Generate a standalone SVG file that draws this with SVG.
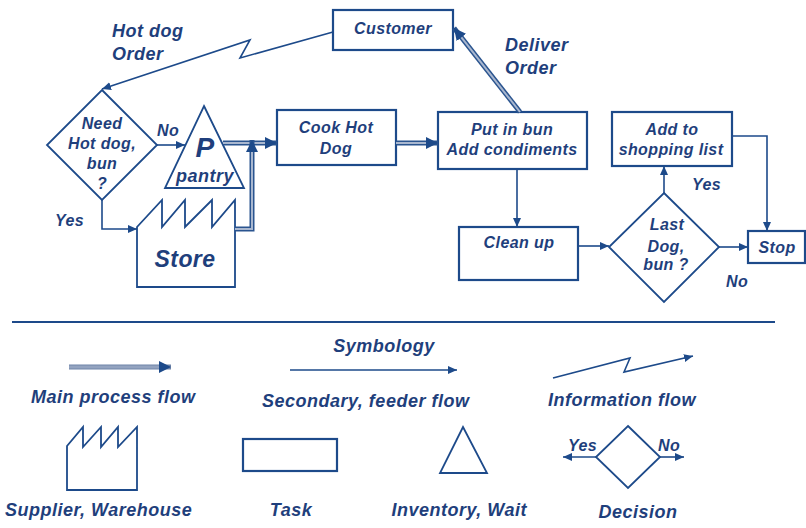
<svg xmlns="http://www.w3.org/2000/svg" width="806" height="528" viewBox="0 0 806 528">
<style>
text{font-family:"Liberation Sans",Arial,sans-serif;font-weight:bold;font-style:italic;fill:#1f3f7c;letter-spacing:0.4px}
.n{font-size:16px}
.l{font-size:18px;letter-spacing:0.5px}
.c{text-anchor:middle}
.box{fill:#fff;stroke:#1d4a8a;stroke-width:2.2}
.sh{fill:none;stroke:#1d4a8a;stroke-width:1.8}
.sec{fill:none;stroke:#1d4a8a;stroke-width:1.6}
.mo{fill:none;stroke:#2a548f;stroke-width:5}
.mi{fill:none;stroke:#a9b7cf;stroke-width:2}
</style>
<defs>
<marker id="sa" markerUnits="userSpaceOnUse" markerWidth="10" markerHeight="9" refX="9" refY="4" orient="auto"><path d="M0,0 L9,4 L0,8 z" fill="#1d4a8a"/></marker>
<marker id="ma" markerUnits="userSpaceOnUse" markerWidth="13" markerHeight="13" refX="12" refY="6" orient="auto"><path d="M0,0 L12,6 L0,12 z" fill="#1d4a8a"/></marker>
</defs>
<rect width="806" height="528" fill="#fff"/>

<g id="customer"><rect class="box" x="333" y="10" width="120" height="40"/><text class="n c" x="393" y="34">Customer</text></g>
<g id="need"><polygon class="sh" points="102,90 157,145 102,200 47,145"/>
<text class="n c" x="102" y="129">Need</text><text class="n c" x="102" y="149">Hot dog,</text><text class="n c" x="102" y="169">bun</text><text class="n c" x="102" y="189">?</text></g>
<g id="pantry"><polygon class="sh" points="204,106 244,188 165,188"/>
<text class="c" x="205" y="157" style="font-size:28px">P</text><text class="l c" x="205" y="182">pantry</text></g>
<g id="store"><path class="sh" d="M137,287 L137,227 L162,200 L162,227 L185,200 L185,227 L212,200 L212,227 L235,200 L235,287 Z"/>
<text class="c" x="185" y="267" style="font-size:23px">Store</text></g>
<g id="cook"><rect class="box" x="277" y="110" width="119" height="55"/><text class="n c" x="336" y="133">Cook Hot</text><text class="n c" x="336" y="154">Dog</text></g>
<g id="putinbun"><rect class="box" x="438" y="112" width="149" height="57"/><text class="n c" x="512" y="135">Put in bun</text><text class="n c" x="512" y="155">Add condiments</text></g>
<g id="cleanup"><rect class="box" x="459" y="227" width="119" height="53"/><text class="n c" x="519" y="248">Clean up</text></g>
<g id="lastdog"><polygon class="sh" points="664,193 719,247 664,302 609,247"/>
<text class="n c" x="667" y="230">Last</text><text class="n c" x="666" y="252">Dog,</text><text class="n c" x="666" y="270">bun ?</text></g>
<g id="addto"><rect class="box" x="612" y="112" width="120" height="54"/><text class="n c" x="672" y="135">Add to</text><text class="n c" x="671" y="155">shopping list</text></g>
<g id="stop"><rect class="box" x="748" y="231" width="57" height="32"/><text class="n c" x="777" y="253">Stop</text></g>

<g id="connectors">
<path class="sec" d="M333,32 L240,58 L250,40 L102,89" marker-end="url(#sa)"/>
<path class="sec" d="M157,145 L185,145" marker-end="url(#sa)"/>
<path class="sec" d="M102,200 L102,229 L137,229" marker-end="url(#sa)"/>
<path class="sec" d="M517,169 L517,227" marker-end="url(#sa)"/>
<path class="sec" d="M578,246 L609,246" marker-end="url(#sa)"/>
<path class="sec" d="M664,193 L664,166" marker-end="url(#sa)"/>
<path class="sec" d="M732,136 L767,136 L767,231" marker-end="url(#sa)"/>
<path class="sec" d="M719,247 L748,247" marker-end="url(#sa)"/>
<path class="mo" d="M223,143 L277,143" marker-end="url(#ma)"/><path class="mi" d="M223,143 L265,143"/>
<path class="mo" d="M235,229 L252,229 L252,140" marker-end="url(#ma)"/><path class="mi" d="M235,229 L252,229 L252,152"/>
<path class="mo" d="M396,143 L438,143" marker-end="url(#ma)"/><path class="mi" d="M396,143 L426,143"/>
<path class="mo" d="M520,112 L454,28" marker-end="url(#ma)"/><path class="mi" d="M520,112 L461.4,37.4"/>
</g>

<g id="labels">
<text class="l" x="112" y="37">Hot dog</text><text class="l" x="112" y="60">Order</text>
<text class="l" x="505" y="51">Deliver</text><text class="l" x="505" y="74">Order</text>
<text class="n" x="157" y="136">No</text>
<text class="n" x="55" y="226">Yes</text>
<text class="n" x="692" y="190">Yes</text>
<text class="n" x="726" y="287">No</text>
</g>

<g id="legend">
<path d="M12,322 L775,322" stroke="#1d4a8a" stroke-width="2"/>
<text class="l c" x="384" y="352">Symbology</text>
<path class="mo" d="M69,367 L171,367" marker-end="url(#ma)" style="stroke:#6f84a9"/><path class="mi" d="M69,367 L159,367" style="stroke:#93a3c0;stroke-width:3"/>
<text class="l" x="31" y="403">Main process flow</text>
<path class="sec" d="M290,370 L457,370" marker-end="url(#sa)"/>
<text class="l" x="262" y="407">Secondary, feeder flow</text>
<path class="sec" d="M553,378 L630,358 L624,372 L693,356" marker-end="url(#sa)"/>
<text class="l" x="548" y="406">Information flow</text>
<path class="sh" d="M67,490 L67,446 L83,427 L83,447 L101,427 L101,447 L118,427 L118,447 L137,427 L137,490 Z"/>
<text class="l" x="5" y="516">Supplier, Warehouse</text>
<rect class="box" x="243" y="439" width="94" height="32"/>
<text class="l c" x="291" y="516">Task</text>
<polygon class="sh" points="463,427 487,473 440,473"/>
<text class="l" x="527" y="516" style="text-anchor:end">Inventory, Wait</text>
<polygon class="sh" points="628,426 660,457 628,488 596,457"/>
<path class="sec" d="M596,457 L563,457" marker-end="url(#sa)"/>
<path class="sec" d="M660,457 L684,457" marker-end="url(#sa)"/>
<text class="n" x="568" y="451">Yes</text><text class="n" x="658" y="451">No</text>
<text class="l c" x="638" y="518">Decision</text>
</g>
</svg>
